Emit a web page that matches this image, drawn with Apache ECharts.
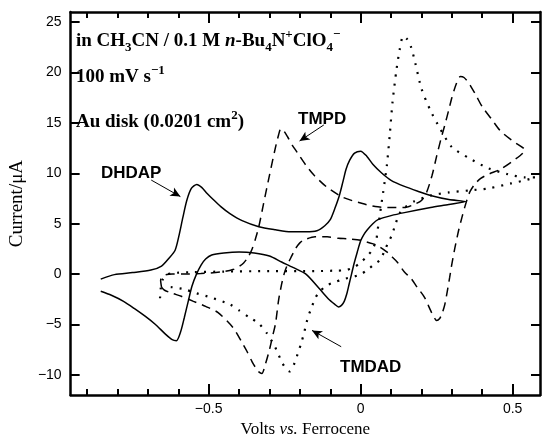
<!DOCTYPE html>
<html>
<head>
<meta charset="utf-8">
<script src="https://cdn.jsdelivr.net/npm/echarts@6/dist/echarts.min.js"></script>
<style>
  html, body { margin: 0; padding: 0; background: #fff; }
  #chart { width: 543px; height: 443px; }
</style>
</head>
<body>
<div id="chart"></div>
<script>
// axis ticks
const xLabelTicks = [-0.5, 0, 0.5];
const xMinorTicks = [-0.9, -0.8, -0.7, -0.6, -0.4, -0.3, -0.2, -0.1, 0.1, 0.2, 0.3, 0.4];
const yTicks = [-10, -5, 0, 5, 10, 15, 20, 25];

// DHDAP (solid) - forward then reverse scan
const dhdapX = [-0.855, -0.81, -0.75, -0.69, -0.655, -0.63, -0.61, -0.597, -0.585, -0.572, -0.557, -0.539, -0.523, -0.505, -0.485, -0.46, -0.43, -0.39, -0.335, -0.28, -0.23, -0.18, -0.144, -0.118, -0.1, -0.085, -0.07, -0.058, -0.048, -0.036, -0.02, 0.0, 0.02, 0.04, 0.07, 0.10, 0.144, 0.19, 0.23, 0.29, 0.345,
  0.29, 0.23, 0.144, 0.10, 0.057, 0.04, 0.022, 0.01, 0.0, -0.011, -0.022, -0.03, -0.038, -0.046, -0.054, -0.063, -0.073, -0.085, -0.105, -0.137, -0.18, -0.223, -0.26, -0.30, -0.35, -0.40, -0.45, -0.49, -0.51, -0.525, -0.54, -0.555, -0.568, -0.58, -0.592, -0.606, -0.62, -0.644, -0.675, -0.708, -0.745, -0.78, -0.82, -0.855];
const dhdapY = [-0.5, -0.05, 0.15, 0.4, 0.8, 1.6, 2.4, 3.9, 5.6, 7.3, 8.5, 8.9, 8.6, 8.0, 7.4, 6.7, 6.0, 5.3, 4.7, 4.4, 4.2, 4.2, 4.3, 4.8, 5.4, 6.5, 7.8, 9.2, 10.4, 11.3, 12.0, 12.2, 11.7, 10.9, 10.0, 9.3, 8.7, 8.2, 7.8, 7.4, 7.2,
  6.9, 6.6, 6.1, 5.8, 5.4, 5.0, 4.4, 3.9, 3.3, 2.2, 1.0, 0.0, -1.0, -2.0, -2.7, -3.1, -3.25, -3.0, -2.5, -1.4, 0.0, 0.67, 1.2, 1.8, 2.1, 2.2, 2.1, 1.9, 1.5, 0.9, 0.0, -1.2, -2.8, -4.3, -5.7, -6.6, -6.5, -5.9, -5.0, -4.2, -3.4, -2.7, -2.1, -1.7];

// TMPD (dashed)
const tmpdX = [-0.655, -0.658, -0.645, -0.62, -0.59, -0.526, -0.45, -0.42, -0.40, -0.385, -0.37, -0.357, -0.345, -0.335, -0.32, -0.30, -0.28, -0.27, -0.263, -0.255, -0.24, -0.225, -0.207, -0.18, -0.153, -0.11, -0.057, 0.006, 0.048, 0.10, 0.144, 0.175, 0.20, 0.218, 0.235, 0.25, 0.265, 0.277, 0.29, 0.30, 0.315, 0.328, 0.34, 0.357, 0.38, 0.40, 0.43, 0.46, 0.50, 0.54,
  0.50, 0.46, 0.42, 0.395, 0.375, 0.36, 0.35, 0.342, 0.333, 0.322, 0.31, 0.30, 0.293, 0.285, 0.277, 0.268, 0.26, 0.25, 0.24, 0.23, 0.21, 0.186, 0.165, 0.144, 0.12, 0.10, 0.086, 0.057, 0.041, 0.0, -0.04, -0.073, -0.11, -0.15, -0.185, -0.2, -0.215, -0.23, -0.24, -0.25, -0.26, -0.27, -0.28, -0.29, -0.30, -0.313, -0.325, -0.335, -0.345, -0.357, -0.375, -0.39, -0.42, -0.47, -0.51, -0.55, -0.59, -0.62, -0.645, -0.655];
const tmpdY = [-1.3, -0.6, -0.1, 0.0, 0.0, 0.05, 0.25, 0.45, 0.75, 1.1, 1.7, 2.5, 3.6, 4.7, 6.9, 9.8, 12.6, 13.8, 14.4, 14.3, 13.6, 12.8, 12.0, 10.8, 9.8, 8.6, 7.6, 7.0, 6.7, 6.6, 6.6, 6.9, 7.3, 8.2, 9.8, 11.7, 13.5, 14.8, 16.3, 17.5, 18.9, 19.6, 19.5, 18.9, 17.7, 16.6, 15.4, 14.2, 13.2, 12.3,
  11.2, 10.4, 9.9, 9.5, 8.9, 8.2, 7.4, 6.6, 5.6, 4.3, 2.6, 1.0, -0.3, -1.7, -3.0, -3.9, -4.4, -4.6, -4.2, -3.6, -2.3, -1.3, -0.4, 0.2, 1.2, 1.8, 2.2, 2.8, 3.0, 3.35, 3.5, 3.55, 3.7, 3.7, 3.4, 3.1, 2.5, 1.6, 1.0, 0.2, -1.0, -2.6, -4.9, -6.2, -7.5, -8.9, -9.85, -9.7, -9.3, -8.7, -7.6, -6.8, -5.3, -3.8, -3.2, -2.7, -2.2, -1.9, -1.6, -1.3];

// TMDAD (dotted)
const tmdadX = [-0.66, -0.658, -0.652, -0.64, -0.62, -0.55, -0.45, -0.3, -0.15, -0.08, -0.048, -0.022, 0.0, 0.022, 0.038, 0.051, 0.056, 0.062, 0.068, 0.074, 0.08, 0.086, 0.096, 0.105, 0.118, 0.128, 0.14, 0.153, 0.166, 0.18, 0.2, 0.23, 0.26, 0.30, 0.357, 0.42, 0.485, 0.54, 0.575,
  0.54, 0.495, 0.42, 0.357, 0.29, 0.23, 0.175, 0.145, 0.128, 0.115, 0.102, 0.09, 0.077, 0.064, 0.041, 0.022, -0.006, -0.057, -0.086, -0.11, -0.134, -0.15, -0.16, -0.17, -0.178, -0.185, -0.195, -0.207, -0.217, -0.225, -0.233, -0.245, -0.258, -0.27, -0.282, -0.295, -0.31, -0.335, -0.366, -0.40, -0.43, -0.494, -0.54, -0.58, -0.62, -0.645];
const tmdadY = [-2.4, -1.5, -0.6, -0.1, 0.1, 0.2, 0.25, 0.3, 0.3, 0.35, 0.4, 0.67, 1.15, 1.8, 2.4, 3.35, 4.4, 5.6, 6.9, 8.1, 9.4, 10.7, 13.9, 17.1, 20.3, 22.2, 23.6, 23.3, 22.5, 20.9, 18.4, 16.2, 14.5, 12.6, 11.5, 10.5, 9.9, 9.6, 9.6,
  9.3, 9.0, 8.5, 8.3, 8.1, 7.8, 7.2, 6.6, 6.0, 5.0, 3.8, 3.1, 2.2, 1.4, 0.9, 0.4, -0.1, -0.5, -0.8, -1.1, -1.7, -2.4, -3.2, -4.0, -4.8, -5.7, -6.8, -7.9, -8.8, -9.3, -9.65, -9.4, -8.8, -8.0, -7.2, -6.5, -5.8, -4.9, -4.3, -3.6, -3.0, -2.3, -1.9, -1.5, -1.3, -1.25];

const zip = (xs, ys) => xs.map((x, i) => [x, ys[i]]);

const chart = echarts.init(document.getElementById('chart'));

const fmt = v => String(v).replace('-', '\u2212');
const xMin = -0.954, xMax = 0.59;

function xAxisDef(pos, ticks, len, withLabels, showLine) {
  return {
    type: 'value', position: pos, min: xMin, max: xMax,
    axisLine: { show: showLine, onZero: false, lineStyle: { color: '#000', width: 2.5 } },
    axisTick: { show: true, inside: true, length: len, customValues: ticks, lineStyle: { color: '#000', width: 2 } },
    axisLabel: withLabels ? {
      show: true, customValues: xLabelTicks, formatter: fmt, margin: 7,
      color: '#000', fontSize: 14, fontFamily: 'Liberation Sans'
    } : { show: false },
    splitLine: { show: false }
  };
}

function yAxisDef(pos, withLabels) {
  return {
    type: 'value', position: pos, min: -12, max: 26,
    axisLine: { show: true, onZero: false, lineStyle: { color: '#000', width: 2.5 } },
    axisTick: { show: true, inside: true, length: 9, customValues: yTicks, lineStyle: { color: '#000', width: 2 } },
    axisLabel: withLabels ? { customValues: yTicks, formatter: fmt, margin: 9, color: '#000', fontSize: 14, fontFamily: 'Liberation Sans' } : { show: false },
    splitLine: { show: false }
  };
}

const arrowLine = (from, to) => ({
  silent: true, animation: false,
  symbol: ['none', 'arrow'], symbolSize: [7, 10],
  lineStyle: { color: '#000', width: 1, type: 'solid' },
  label: { show: false },
  data: [[{ coord: from }, { coord: to }]]
});

const mainStyle = { fontSize: 19, fontWeight: 'bold', fontFamily: 'Liberation Serif', lineHeight: 26, verticalAlign: 'middle', fill: '#000' };
const subStyle = { fontSize: 13, fontWeight: 'bold', fontFamily: 'Liberation Serif', lineHeight: 13, verticalAlign: 'bottom', fill: '#000' };
const supStyle = { fontSize: 13, fontWeight: 'bold', fontFamily: 'Liberation Serif', lineHeight: 13, verticalAlign: 'top', fill: '#000' };
const richText = { a: mainStyle, s: subStyle, p: supStyle,
  i: Object.assign({}, mainStyle, { fontStyle: 'italic' }) };

const labelFont = 'bold 17px "Liberation Sans"';

chart.setOption({
  animation: false,
  backgroundColor: '#fff',
  grid: { left: 56, top: 12, width: 484, height: 395 },
  xAxis: [
    Object.assign(xAxisDef('bottom', xLabelTicks, 11, true, true), {
      name: '{n|Volts }{i|vs.}{n| Ferrocene}', nameLocation: 'middle', nameGap: 24,
      nameTextStyle: { rich: {
        n: { fontSize: 17, fontFamily: 'Liberation Serif', color: '#000' },
        i: { fontSize: 17, fontFamily: 'Liberation Serif', fontStyle: 'italic', color: '#000' }
      } }
    }),
    xAxisDef('bottom', xMinorTicks, 6, false, false),
    xAxisDef('top', xLabelTicks, 11, false, true),
    xAxisDef('top', xMinorTicks, 6, false, false)
  ],
  yAxis: [
    Object.assign(yAxisDef('left', true), {
      name: 'Current/\u03bcA', nameLocation: 'middle', nameGap: 37, nameRotate: 90,
      nameTextStyle: { fontSize: 19, fontFamily: 'Liberation Serif', color: '#000' }
    }),
    yAxisDef('right', false)
  ],
  series: [
    {
      name: 'DHDAP', type: 'line', data: zip(dhdapX, dhdapY), showSymbol: false, smooth: 0.25,
      lineStyle: { color: '#000', width: 1.5, type: 'solid' },
      markLine: arrowLine([-0.689, 9.33], [-0.593, 7.69])
    },
    {
      name: 'TMPD', type: 'line', data: zip(tmpdX, tmpdY), showSymbol: false, smooth: 0.25,
      lineStyle: { color: '#000', width: 1.5, type: [9, 6] },
      markLine: arrowLine([-0.121, 14.8], [-0.201, 13.2])
    },
    {
      name: 'TMDAD', type: 'line', data: zip(tmdadX, tmdadY), showSymbol: false, smooth: 0.25,
      lineStyle: { color: '#000', width: 2.2, type: [2, 7] },
      markLine: arrowLine([-0.064, -7.2], [-0.16, -5.58])
    }
  ],
  graphic: [
    { type: 'text', left: 76, top: 28, style: { text: '{a|in CH}{s|3}{a|CN / 0.1 M }{i|n}{a|-Bu}{s|4}{a|N}{p|+}{a|ClO}{s|4}{p|\u2212}', rich: richText } },
    { type: 'text', left: 76, top: 64, style: { text: '{a|100 mV s}{p|\u22121}', rich: richText } },
    { type: 'text', left: 76, top: 109, style: { text: '{a|Au disk (0.0201 cm}{p|2}{a|)}', rich: richText } },
    { type: 'text', left: 101, top: 165, style: { text: 'DHDAP', font: labelFont, fill: '#000' } },
    { type: 'text', left: 298, top: 111, style: { text: 'TMPD', font: labelFont, fill: '#000' } },
    { type: 'text', left: 340, top: 359, style: { text: 'TMDAD', font: labelFont, fill: '#000' } }
  ]
});
</script>
</body>
</html>
